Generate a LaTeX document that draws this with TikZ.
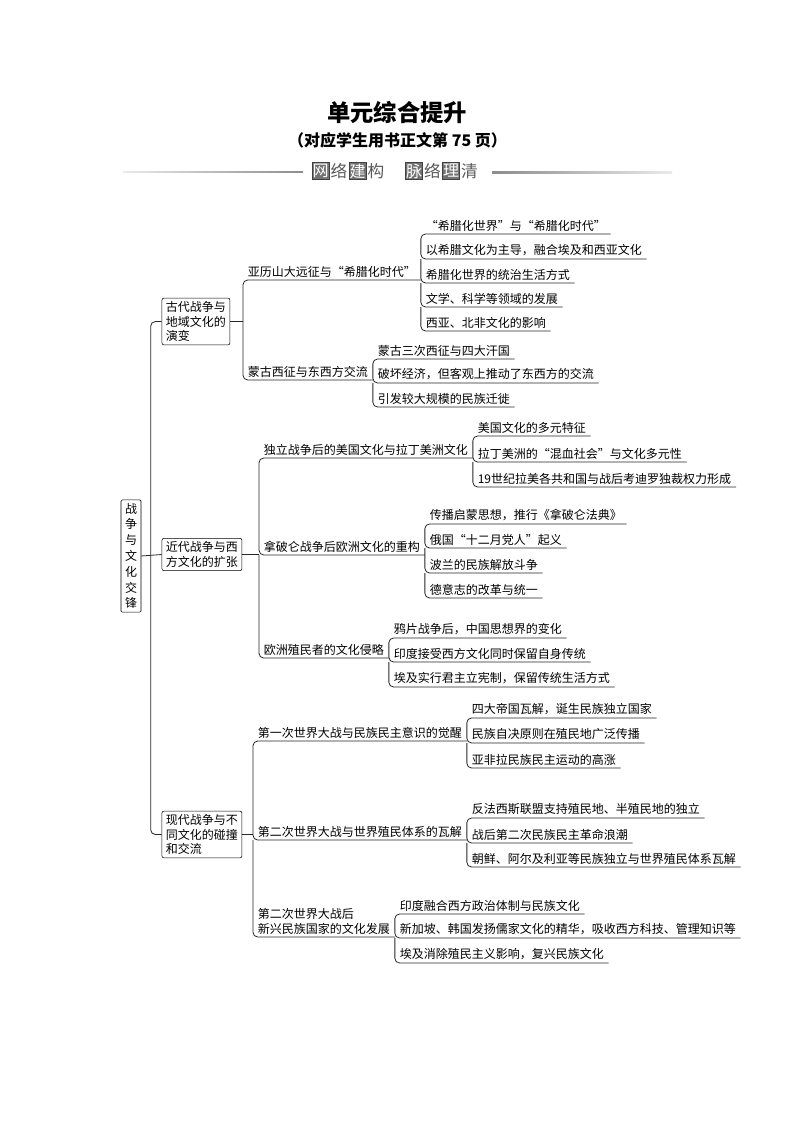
\documentclass[tikz,border=0pt]{standalone}
\usepackage{fontspec}
\newfontfamily\cjk{Noto Sans CJK SC}
\usetikzlibrary{positioning,calc}

\tikzset{
  rootbox/.style={draw, rounded corners=1pt, align=center, inner xsep=3pt, inner ysep=2.5pt,
    font=\cjk\fontsize{9pt}{11.85pt}\selectfont},
  topicbox/.style={draw, rounded corners=1.5pt, align=left, anchor=west, inner xsep=3pt, inner ysep=2.5pt,
    font=\cjk\fontsize{9pt}{10.9pt}\selectfont},
  item/.style={anchor=south west, align=left, inner xsep=3.5pt, inner ysep=2pt,
    font=\cjk\fontsize{9pt}{11.25pt}\selectfont},
  link/.style={line width=0.6pt, black!85, rounded corners=3.5pt},
  tagbox/.style={fill=black!55, draw=black!75, text=white, inner sep=0pt, minimum size=12.5pt,
    font=\cjk\fontsize{12pt}{13pt}\selectfont},
  tagtext/.style={text=black!65, inner sep=0pt, font=\cjk\fontsize{12.5pt}{13pt}\selectfont},
}

\begin{document}
\begin{tikzpicture}[x=0.75pt, y=-0.75pt]
    \useasboundingbox (0,0) rectangle (794,1123);

    % header
    \node[font=\cjk\bfseries\fontsize{17.5pt}{20pt}\selectfont] (title) at (397,113) {单元综合提升};
    \node[font=\cjk\bfseries\fontsize{12pt}{14pt}\selectfont] (subtitle) at (397.5,140.5) {（对应学生用书正文第 75 页）};
    \shade[left color=black!8, right color=black!45] (123,171.3) rectangle (303,172.8);
    \shade[left color=black!45, right color=black!8] (492,171.8) rectangle (672,173.3);
    \node[tagbox] (tag1) at (320.5,171) {网};
    \node[tagtext] (tag2) at (339,171) {络};
    \node[tagbox] (tag3) at (357.5,171) {建};
    \node[tagtext] (tag4) at (376,171) {构};
    \node[tagbox] (tag5) at (414,171) {脉};
    \node[tagtext] (tag6) at (432.5,171) {络};
    \node[tagbox] (tag7) at (451,171) {理};
    \node[tagtext] (tag8) at (469.5,171) {清};

    % root and the three periods
    \node[rootbox] (root) at (131,556) {战\\争\\与\\文\\化\\交\\锋};
    \node[topicbox] (ancient) at (161.7,321.5) {古代战争与\\地域文化的\\演变};
    \node[topicbox] (modern) at (161.7,554.5) {近代战争与西\\方文化的扩张};
    \node[topicbox] (today) at (161.7,834.5) {现代战争与不\\同文化的碰撞\\和交流};
    \coordinate (trunk) at (150.7,555);
    \draw[link] (root.east) -- (modern.west);
    \draw[link] (ancient.west) -- (trunk |- ancient.west) -- (trunk |- today.west) -- (today.west);

    % ancient
    \node[item] (alex) at (243,280) {亚历山大远征与“希腊化时代”};
    \node[item] (mongol) at (243,380) {蒙古西征与东西方交流};
    \draw[link] (ancient.east) -- (ancient.east -| alex.south west);
    \draw[link] (alex.south east) -- (alex.south west) -- (mongol.south west) -- (mongol.south east);

    \node[item] (alex1) at (alex.south east |- 0,234) {“希腊化世界”与“希腊化时代”};
    \node[item] (alex2) at (alex.south east |- 0,259) {以希腊文化为主导，融合埃及和西亚文化};
    \node[item] (alex3) at (alex.south east |- 0,283) {希腊化世界的统治生活方式};
    \node[item] (alex4) at (alex.south east |- 0,307) {文学、科学等领域的发展};
    \node[item] (alex5) at (alex.south east |- 0,331) {西亚、北非文化的影响};
    \draw[link] (alex1.south east) -- (alex1.south west) -- (alex2.south west) -- (alex2.south east)
        (alex2.south west) -- (alex3.south west) -- (alex3.south east)
        (alex3.south west) -- (alex4.south west) -- (alex4.south east)
        (alex4.south west) -- (alex5.south west) -- (alex5.south east);

    \node[item] (mongol1) at (mongol.south east |- 0,359) {蒙古三次西征与四大汗国};
    \node[item] (mongol2) at (mongol.south east |- 0,383) {破坏经济，但客观上推动了东西方的交流};
    \node[item] (mongol3) at (mongol.south east |- 0,407) {引发较大规模的民族迁徙};
    \draw[link] (mongol1.south east) -- (mongol1.south west) -- (mongol2.south west) -- (mongol2.south east)
        (mongol2.south west) -- (mongol3.south west) -- (mongol3.south east);

    % modern
    \node[item] (indep) at (259,458) {独立战争后的美国文化与拉丁美洲文化};
    \node[item] (napo) at (259,555) {拿破仑战争后欧洲文化的重构};
    \node[item] (colon) at (259,658) {欧洲殖民者的文化侵略};
    \draw[link] (modern.east) -- (modern.east -| napo.south west);
    \draw[link] (indep.south east) -- (indep.south west) -- (napo.south west) -- (napo.south east)
        (napo.south west) -- (colon.south west) -- (colon.south east);

    \node[item] (indep1) at (indep.south east |- 0,436) {美国文化的多元特征};
    \node[item] (indep2) at (indep.south east |- 0,462) {拉丁美洲的“混血社会”与文化多元性};
    \node[item] (indep3) at (indep.south east |- 0,487) {19世纪拉美各共和国与战后考迪罗独裁权力形成};
    \draw[link] (indep1.south east) -- (indep1.south west) -- (indep2.south west) -- (indep2.south east)
        (indep2.south west) -- (indep3.south west) -- (indep3.south east);

    \node[item] (napo1) at (napo.south east |- 0,524) {传播启蒙思想，推行《拿破仑法典》};
    \node[item] (napo2) at (napo.south east |- 0,548) {俄国“十二月党人”起义};
    \node[item] (napo3) at (napo.south east |- 0,573) {波兰的民族解放斗争};
    \node[item] (napo4) at (napo.south east |- 0,598) {德意志的改革与统一};
    \draw[link] (napo1.south east) -- (napo1.south west) -- (napo2.south west) -- (napo2.south east)
        (napo2.south west) -- (napo3.south west) -- (napo3.south east)
        (napo3.south west) -- (napo4.south west) -- (napo4.south east);

    \node[item] (colon1) at (colon.south east |- 0,638) {鸦片战争后，中国思想界的变化};
    \node[item] (colon2) at (colon.south east |- 0,662) {印度接受西方文化同时保留自身传统};
    \node[item] (colon3) at (colon.south east |- 0,687) {埃及实行君主立宪制，保留传统生活方式};
    \draw[link] (colon1.south east) -- (colon1.south west) -- (colon2.south west) -- (colon2.south east)
        (colon2.south west) -- (colon3.south west) -- (colon3.south east);

    % today
    \node[item] (ww1) at (253,741) {第一次世界大战与民族民主意识的觉醒};
    \node[item] (ww2) at (253,840) {第二次世界大战与世界殖民体系的瓦解};
    \node[item] (post) at (253,937) {第二次世界大战后\\新兴民族国家的文化发展};
    \draw[link] (today.east) -- (today.east -| ww2.south west);
    \draw[link] (ww1.south east) -- (ww1.south west) -- (ww2.south west) -- (ww2.south east)
        (ww2.south west) -- (post.south west) -- (post.south east);

    \node[item] (ww11) at (ww1.south east |- 0,718) {四大帝国瓦解，诞生民族独立国家};
    \node[item] (ww12) at (ww1.south east |- 0,743) {民族自决原则在殖民地广泛传播};
    \node[item] (ww13) at (ww1.south east |- 0,768) {亚非拉民族民主运动的高涨};
    \draw[link] (ww11.south east) -- (ww11.south west) -- (ww12.south west) -- (ww12.south east)
        (ww12.south west) -- (ww13.south west) -- (ww13.south east);

    \node[item] (ww21) at (ww2.south east |- 0,818) {反法西斯联盟支持殖民地、半殖民地的独立};
    \node[item] (ww22) at (ww2.south east |- 0,843) {战后第二次民族民主革命浪潮};
    \node[item] (ww23) at (ww2.south east |- 0,867) {朝鲜、阿尔及利亚等民族独立与世界殖民体系瓦解};
    \draw[link] (ww21.south east) -- (ww21.south west) -- (ww22.south west) -- (ww22.south east)
        (ww22.south west) -- (ww23.south west) -- (ww23.south east);

    \node[item] (post1) at (post.south east |- 0,914) {印度融合西方政治体制与民族文化};
    \node[item] (post2) at (post.south east |- 0,938) {新加坡、韩国发扬儒家文化的精华，吸收西方科技、管理知识等};
    \node[item] (post3) at (post.south east |- 0,963) {埃及消除殖民主义影响，复兴民族文化};
    \draw[link] (post1.south east) -- (post1.south west) -- (post2.south west) -- (post2.south east)
        (post2.south west) -- (post3.south west) -- (post3.south east);
\end{tikzpicture}
\end{document}
